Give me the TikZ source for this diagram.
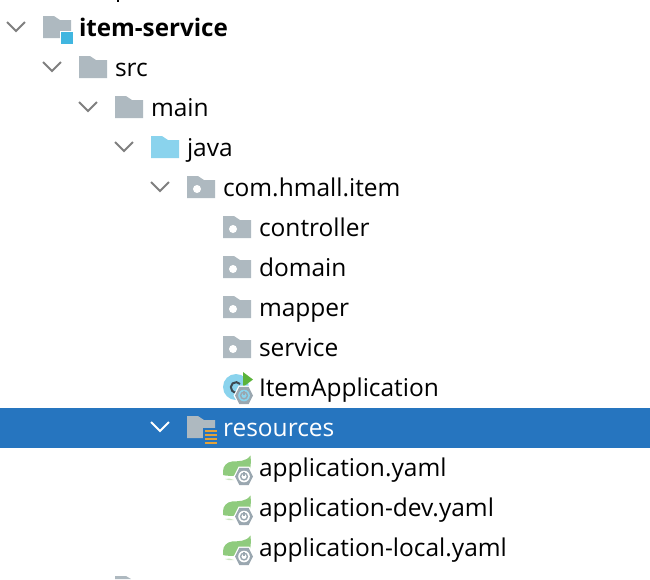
\documentclass[tikz,border=0pt]{standalone}
\usepackage{fontspec}
\setmainfont{Open Sans}
\definecolor{folderc}{HTML}{AEB9C0}
\definecolor{javac}{HTML}{8AD3ED}
\definecolor{modc}{HTML}{40B6E0}
\definecolor{chevc}{HTML}{7F7F7F}
\definecolor{selc}{HTML}{2675BF}
\definecolor{resc}{HTML}{E3A23A}
\definecolor{leafc}{HTML}{8FCB7D}
\definecolor{stemc}{HTML}{C9E5C0}
\definecolor{hexc}{HTML}{9AA7B0}
\definecolor{playc}{HTML}{5BB33A}
\definecolor{classc}{HTML}{3E4A52}
\tikzset{
  x=1pt,y=-1pt,
  lbl/.style={anchor=base west,inner sep=0pt,outer sep=0pt,font=\fontsize{24.5}{28}\selectfont,text=black},
  chevline/.style={draw=chevc,line width=2pt,fill=none},
  pics/chev/.style={code={\draw[chevline,#1] (-9,-5)--(0,4)--(9,-5);}},
  pics/chev/.default={},
  pics/folder/.style={code={\fill[#1] (0,-11)--(11,-11)--(17,-7)--(28,-7)--(28,11)--(0,11)--cycle;}},
  pics/pkg/.style={code={\fill[folderc] (0,-11)--(11,-11)--(17,-7)--(28,-7)--(28,11)--(0,11)--cycle;
     \fill[white] (10,2) circle (4);}},
  pics/hexa/.style={code={
     \draw[white,line width=2.5pt] (-9,0)--(-4.6,-8.6)--(4.6,-8.6)--(9,0)--(4.6,8.6)--(-4.6,8.6)--cycle;
     \fill[hexc] (-9,0)--(-4.6,-8.6)--(4.6,-8.6)--(9,0)--(4.6,8.6)--(-4.6,8.6)--cycle;
     \fill[#1] (0,0) circle (5.8);
     \draw[hexc,line width=1.4pt] (0,0) circle (3.4);
     \draw[hexc,line width=1.4pt] (0,-4.2)--(0,-.5);}},
  pics/spring/.style={code={
     \fill[leafc] (0,4) .. controls (0,-1) and (4,-5) .. (9,-5.5)
       .. controls (15,-6) and (23,-5) .. (27.5,-11.5)
       .. controls (28,-6) and (28,-2) .. (27,2)
       -- (14,8.5) .. controls (9,9) and (3,9) .. (0,8) -- cycle;
     \fill[stemc] (2,12) .. controls (5,11) and (8,11.5) .. (11,13) .. controls (7,13.5) and (4,13) .. (2,12) -- cycle;
     \pic at (21,9.5) {hexa=white};}},
}
\begin{document}
\begin{tikzpicture}
\useasboundingbox (0,0) rectangle (650,579);
\fill[white] (0,0) rectangle (650,579);
% clipped neighbours
\fill[black] (116.5,0) rectangle (118.5,2);
\fill[folderc] (115,579)--(115,576)--(126,576)--(131,579)--cycle;
% selected row
\fill[selc] (0,408) rectangle (650,448);
% chevrons
\pic at (16,27) {chev};
\pic at (52,67) {chev};
\pic at (88,107) {chev};
\pic at (124,147) {chev};
\pic at (160,187) {chev};
\pic at (160,427) {chev={draw=white}};
% folders
\pic at (43,27) {folder=folderc};
\fill[white] (59.5,30.5) rectangle (74,45);
\fill[modc] (61,32) rectangle (73,44);
\pic at (79,67) {folder=folderc};
\pic at (115,107) {folder=folderc};
\pic at (151,147) {folder=javac};
\pic at (187,187) {pkg};
\pic at (223,227) {pkg};
\pic at (223,267) {pkg};
\pic at (223,307) {pkg};
\pic at (223,347) {pkg};
% class icon
\fill[javac] (236,387) circle (13);
\draw[classc,line width=2pt] (240,384) arc[start angle=-40,end angle=-320,radius=5.2];
\fill[playc] (243,372)--(253,379.5)--(243,387)--cycle;
\pic at (244,395.5) {hexa=javac};
% resources icon
\pic at (187,427) {folder=folderc};
\fill[selc] (203,427.5) rectangle (220,445);
\fill[resc] (205,430) rectangle (217,432);
\fill[resc] (205,434) rectangle (217,436);
\fill[resc] (205,438) rectangle (217,440);
\fill[resc] (205,442) rectangle (217,444);
% spring icons
\pic at (223,467) {spring};
\pic at (223,507) {spring};
\pic at (223,547) {spring};
% labels
\node[lbl,font=\fontsize{24.2}{28}\selectfont\bfseries] (n1) at (79,36) {item-service};
\node[lbl] (n2) at (115,76) {src};
\node[lbl] (n3) at (151,116) {main};
\node[lbl] (n4) at (187,156) {java};
\node[lbl] (n5) at (223,196) {com.hmall.item};
\node[lbl] (n6) at (259,236) {controller};
\node[lbl] (n7) at (259,276) {domain};
\node[lbl] (n8) at (259,316) {mapper};
\node[lbl] (n9) at (259,356) {service};
\node[lbl] (n10) at (259,396) {ItemApplication};
\node[lbl,text=white] (n11) at (223,436) {resources};
\node[lbl] (n12) at (259,476) {application.yaml};
\node[lbl] (n13) at (259,516) {application-dev.yaml};
\node[lbl] (n14) at (259,556) {application-local.yaml};
\end{tikzpicture}
\end{document}
